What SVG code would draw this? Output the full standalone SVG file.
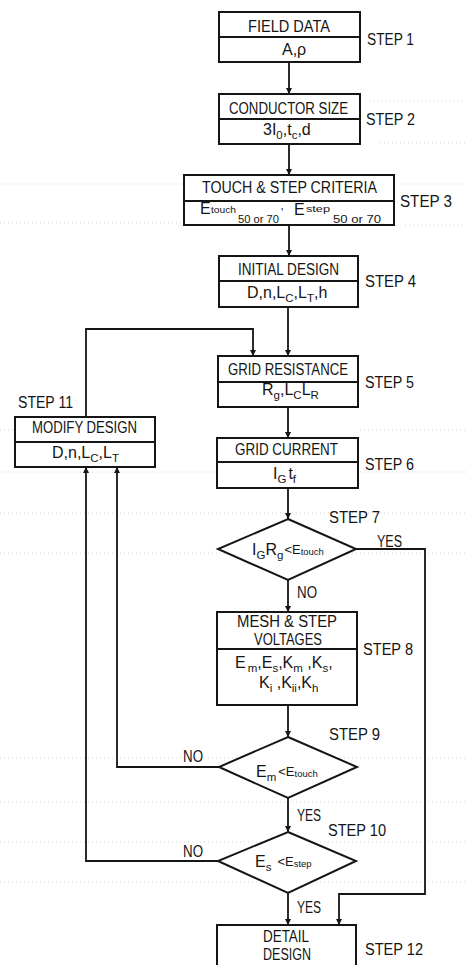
<svg xmlns="http://www.w3.org/2000/svg" width="465" height="965" viewBox="0 0 465 965">
<style>
text{font-family:"Liberation Sans",Arial,sans-serif;fill:#151515}
.t{font-size:16px}
.v{font-size:16px}
.m{font-size:13px}
.s{font-size:11.5px}
.x{font-size:9.5px}
.st{font-size:16px}
.box{fill:#fff;stroke:#151515;stroke-width:2}
.div{stroke:#151515;stroke-width:2}
.ln{fill:none;stroke:#151515;stroke-width:1.8}
.dot{stroke:#d4d4d4;stroke-width:1;stroke-dasharray:1 3}
</style>
<defs>
<marker id="ah2" viewBox="0 0 10 10" refX="10" refY="5" markerWidth="11" markerHeight="6" markerUnits="userSpaceOnUse" orient="auto">
<path d="M0,0 L10,5 L0,10 z" fill="#151515"/>
</marker>
</defs>
<rect width="465" height="965" fill="#fff"/>
<g id="scan-dots">
<line class="dot" x1="365" y1="101" x2="465" y2="101"/>
<line class="dot" x1="380" y1="143" x2="465" y2="143"/>
<line class="dot" x1="0" y1="184" x2="184" y2="184"/>
<line class="dot" x1="394" y1="184" x2="465" y2="184"/>
<line class="dot" x1="0" y1="223" x2="184" y2="223"/>
<line class="dot" x1="405" y1="225" x2="465" y2="225"/>
<line class="dot" x1="0" y1="430" x2="15" y2="430"/>
<line class="dot" x1="360" y1="430" x2="465" y2="430"/>
<line class="dot" x1="0" y1="472" x2="465" y2="472"/>
<line class="dot" x1="0" y1="513" x2="465" y2="513"/>
<line class="dot" x1="0" y1="553" x2="465" y2="553"/>
<line class="dot" x1="0" y1="758" x2="465" y2="758"/>
<line class="dot" x1="0" y1="802" x2="465" y2="802"/>
<line class="dot" x1="0" y1="842" x2="465" y2="842"/>
<line class="dot" x1="0" y1="882" x2="465" y2="882"/>
</g>
<g id="connectors">
<line class="ln" x1="289" y1="62" x2="289" y2="94" marker-end="url(#ah2)"/>
<line class="ln" x1="289" y1="144" x2="289" y2="175" marker-end="url(#ah2)"/>
<line class="ln" x1="289" y1="225" x2="289" y2="256" marker-end="url(#ah2)"/>
<line class="ln" x1="288" y1="307" x2="288" y2="356" marker-end="url(#ah2)"/>
<polyline class="ln" points="86,417 86,329 253,329 253,356" marker-end="url(#ah2)"/>
<line class="ln" x1="288" y1="407" x2="288" y2="438" marker-end="url(#ah2)"/>
<line class="ln" x1="288" y1="488" x2="288" y2="519" marker-end="url(#ah2)"/>
<line class="ln" x1="288" y1="580" x2="288" y2="612" marker-end="url(#ah2)"/>
<polyline class="ln" points="356,549 425,549 425,894 339,894 339,925" marker-end="url(#ah2)"/>
<line class="ln" x1="288" y1="705" x2="288" y2="737" marker-end="url(#ah2)"/>
<polyline class="ln" points="219,767 117,767 117,467" marker-end="url(#ah2)"/>
<line class="ln" x1="288" y1="798" x2="288" y2="832" marker-end="url(#ah2)"/>
<polyline class="ln" points="218,861 86,861 86,467" marker-end="url(#ah2)"/>
<line class="ln" x1="288" y1="893" x2="288" y2="925" marker-end="url(#ah2)"/>
<text class="st" x="377" y="547" textLength="25" lengthAdjust="spacingAndGlyphs">YES</text>
<text class="st" x="297" y="598" textLength="20" lengthAdjust="spacingAndGlyphs">NO</text>
<text class="st" x="183" y="762" textLength="20" lengthAdjust="spacingAndGlyphs">NO</text>
<text class="st" x="297" y="821" textLength="24" lengthAdjust="spacingAndGlyphs">YES</text>
<text class="st" x="183" y="857" textLength="20" lengthAdjust="spacingAndGlyphs">NO</text>
<text class="st" x="297" y="913" textLength="24" lengthAdjust="spacingAndGlyphs">YES</text>
</g>
<g id="step1">
<rect class="box" x="219" y="12" width="141" height="50"/>
<line class="div" x1="219" y1="37" x2="360" y2="37"/>
<text class="t" x="248" y="32" textLength="82" lengthAdjust="spacingAndGlyphs">FIELD DATA</text>
<text class="v" x="282" y="55">A,ρ</text>
<text class="st" x="367" y="45" textLength="47" lengthAdjust="spacingAndGlyphs">STEP 1</text>
</g>
<g id="step2">
<rect class="box" x="219" y="94" width="141" height="50"/>
<line class="div" x1="219" y1="119" x2="360" y2="119"/>
<text class="t" x="229" y="114" textLength="119" lengthAdjust="spacingAndGlyphs">CONDUCTOR SIZE</text>
<text class="v" x="263" y="135">3I<tspan class="s" dy="4">0</tspan><tspan dy="-4">,t</tspan><tspan class="s" dy="4">c</tspan><tspan dy="-4">,d</tspan></text>
<text class="st" x="366" y="125" textLength="49" lengthAdjust="spacingAndGlyphs">STEP 2</text>
</g>
<g id="step3">
<rect class="box" x="184" y="175" width="210" height="50"/>
<line class="div" x1="184" y1="201" x2="394" y2="201"/>
<text class="t" x="202" y="193" textLength="175" lengthAdjust="spacingAndGlyphs">TOUCH &amp; STEP CRITERIA</text>
<text class="v" x="200" y="214">E</text>
<text class="x" x="211" y="213" textLength="25" lengthAdjust="spacingAndGlyphs">touch</text>
<text class="s" x="238" y="223" textLength="41" lengthAdjust="spacingAndGlyphs">50 or 70</text>
<text class="s" x="281" y="216">'</text>
<text class="v" x="294" y="215">E</text>
<text class="x" x="306" y="212" textLength="24" lengthAdjust="spacingAndGlyphs">step</text>
<text class="s" x="333" y="223" textLength="48" lengthAdjust="spacingAndGlyphs">50 or 70</text>
<text class="st" x="400" y="207" textLength="52" lengthAdjust="spacingAndGlyphs">STEP 3</text>
</g>
<g id="step4">
<rect class="box" x="219" y="256" width="139" height="51"/>
<line class="div" x1="219" y1="281" x2="358" y2="281"/>
<text class="t" x="238" y="275" textLength="101" lengthAdjust="spacingAndGlyphs">INITIAL DESIGN</text>
<text class="v" x="247" y="298">D,n,L<tspan class="s" dy="4">C</tspan><tspan dy="-4">,L</tspan><tspan class="s" dy="4">T</tspan><tspan dy="-4">,h</tspan></text>
<text class="st" x="365" y="287" textLength="51" lengthAdjust="spacingAndGlyphs">STEP 4</text>
</g>
<g id="step5">
<rect class="box" x="218" y="356" width="140" height="51"/>
<line class="div" x1="218" y1="382" x2="358" y2="382"/>
<text class="t" x="228" y="375" textLength="120" lengthAdjust="spacingAndGlyphs">GRID RESISTANCE</text>
<text class="v" x="262" y="395">R<tspan class="s" dy="4">g</tspan><tspan dy="-4">,L</tspan><tspan class="s" dy="4">C</tspan><tspan dy="-4">L</tspan><tspan class="s" dy="4">R</tspan></text>
<text class="st" x="365" y="388" textLength="49" lengthAdjust="spacingAndGlyphs">STEP 5</text>
</g>
<g id="step6">
<rect class="box" x="217" y="438" width="141" height="50"/>
<line class="div" x1="217" y1="462" x2="358" y2="462"/>
<text class="t" x="235" y="455" textLength="103" lengthAdjust="spacingAndGlyphs">GRID CURRENT</text>
<text class="v" x="273" y="479">I<tspan class="s" dy="4">G</tspan><tspan dy="-4" dx="2">t</tspan><tspan class="s" dy="4">f</tspan></text>
<text class="st" x="365" y="470" textLength="49" lengthAdjust="spacingAndGlyphs">STEP 6</text>
</g>
<g id="step7">
<polygon class="box" points="288,519 356,549 288,580 218,549"/>
<text class="v" x="252" y="555">I<tspan class="s" dy="4">G</tspan><tspan dy="-4">R</tspan><tspan class="s" dy="4">g</tspan><tspan class="m" dy="-5" dx="1">&lt;E</tspan><tspan class="x" dy="1">touch</tspan></text>
<text class="st" x="329" y="523" textLength="51" lengthAdjust="spacingAndGlyphs">STEP 7</text>
</g>
<g id="step8">
<rect class="box" x="217" y="612" width="140" height="93"/>
<line class="div" x1="217" y1="649" x2="357" y2="649"/>
<text class="t" x="237" y="627" textLength="100" lengthAdjust="spacingAndGlyphs">MESH &amp; STEP</text>
<text class="t" x="254" y="645" textLength="68" lengthAdjust="spacingAndGlyphs">VOLTAGES</text>
<text class="v" x="235" y="668">E<tspan class="s" dy="4" dx="2">m</tspan><tspan dy="-4">,E</tspan><tspan class="s" dy="4">s</tspan><tspan dy="-4">,K</tspan><tspan class="s" dy="4">m</tspan><tspan dy="-4"> ,K</tspan><tspan class="s" dy="4">s</tspan><tspan dy="-4">,</tspan></text>
<text class="v" x="259" y="688">K<tspan class="s" dy="4">i</tspan><tspan dy="-4"> ,K</tspan><tspan class="s" dy="4">ii</tspan><tspan dy="-4">,K</tspan><tspan class="s" dy="4">h</tspan></text>
<text class="st" x="363" y="655" textLength="50" lengthAdjust="spacingAndGlyphs">STEP 8</text>
</g>
<g id="step9">
<polygon class="box" points="288,737 357,767 288,798 219,767"/>
<text class="v" x="256" y="777">E<tspan class="s" dy="4">m</tspan><tspan class="m" dy="-5" dx="2">&lt;E</tspan><tspan class="x" dy="1">touch</tspan></text>
<text class="st" x="329" y="740" textLength="51" lengthAdjust="spacingAndGlyphs">STEP 9</text>
</g>
<g id="step10">
<polygon class="box" points="288,832 356,861 288,893 218,861"/>
<text class="v" x="255" y="867">E<tspan class="s" dy="4">s</tspan><tspan class="m" dy="-5" dx="6">&lt;E</tspan><tspan class="x" dy="1">step</tspan></text>
<text class="st" x="328" y="836" textLength="58" lengthAdjust="spacingAndGlyphs">STEP 10</text>
</g>
<g id="step11">
<rect class="box" x="15" y="417" width="140" height="50"/>
<line class="div" x1="15" y1="442" x2="155" y2="442"/>
<text class="t" x="32" y="433" textLength="105" lengthAdjust="spacingAndGlyphs">MODIFY DESIGN</text>
<text class="v" x="52" y="458">D,n,L<tspan class="s" dy="4">C</tspan><tspan dy="-4">,L</tspan><tspan class="s" dy="4">T</tspan></text>
<text class="st" x="18" y="408" textLength="55" lengthAdjust="spacingAndGlyphs">STEP 11</text>
</g>
<g id="step12">
<rect class="box" x="217" y="925" width="139" height="60"/>
<text class="t" x="263" y="942" textLength="46" lengthAdjust="spacingAndGlyphs">DETAIL</text>
<text class="t" x="263" y="960" textLength="48" lengthAdjust="spacingAndGlyphs">DESIGN</text>
<text class="st" x="365" y="955" textLength="58" lengthAdjust="spacingAndGlyphs">STEP 12</text>
</g>
</svg>
